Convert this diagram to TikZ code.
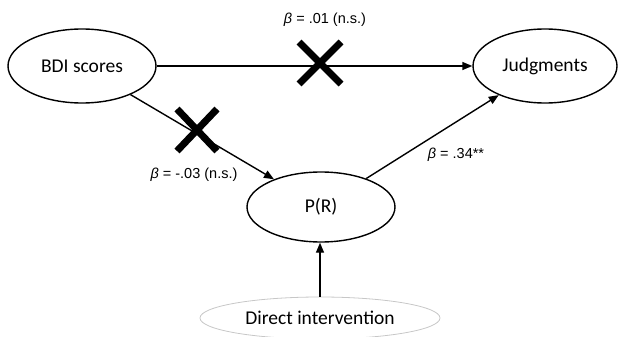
\documentclass[tikz,border=0pt]{standalone}
\usepackage{fontspec}
\setmainfont{Carlito}
\newfontfamily\labfont{Liberation Sans}
\usetikzlibrary{shapes.geometric,arrows.meta}
\tikzset{
  var/.style={ellipse,draw=black,line width=1.4pt,inner sep=0pt,font=\fontsize{19.5}{22}\selectfont},
  ghostvar/.style={ellipse,draw=black!22,line width=0.8pt,inner sep=0pt,font=\fontsize{19.5}{22}\selectfont},
  path/.style={line width=1.4pt,-{Triangle[length=10pt,width=8pt]}},
  coef/.style={font=\labfont\fontsize{14.5}{16}\selectfont,inner sep=0pt},
  nomark/.style={line width=7pt}
}
\begin{document}
\begin{tikzpicture}[x=1pt,y=-1pt]
\useasboundingbox (0,0) rectangle (618,337);
\node[var,minimum width=148pt,minimum height=74pt] (bdi) at (82,66) {BDI scores};
\node[var,minimum width=144pt,minimum height=74pt] (jud) at (545,66) {Judgments};
\node[var,minimum width=148pt,minimum height=70pt] (pr) at (321,207) {P(R)};
\node[ghostvar,minimum width=240pt,minimum height=42pt] (di) at (320,318) {Direct intervention};
\draw[path] (bdi) -- (jud);
\draw[path] (bdi) -- (pr);
\draw[path] (pr) -- (jud);
\draw[path] (di.north) -- (di.north |- pr.south);
\node[coef] (c1) at (325,20) {{\itshape β} = .01 (n.s.)};
\node[coef] (c2) at (194,175) {{\itshape β} = -.03 (n.s.)};
\node[coef] (c3) at (456,155) {{\itshape β} = .34**};
\coordinate (x1) at (320,63);
\coordinate (x2) at (197,130);
\draw[nomark] ([shift={(-21,-21)}]x1) -- ([shift={(21,21)}]x1)
              ([shift={(-21,21)}]x1) -- ([shift={(21,-21)}]x1);
\draw[nomark] ([shift={(-20,-21)}]x2) -- ([shift={(20,21)}]x2)
              ([shift={(-20,21)}]x2) -- ([shift={(20,-21)}]x2);
\end{tikzpicture}
\end{document}
